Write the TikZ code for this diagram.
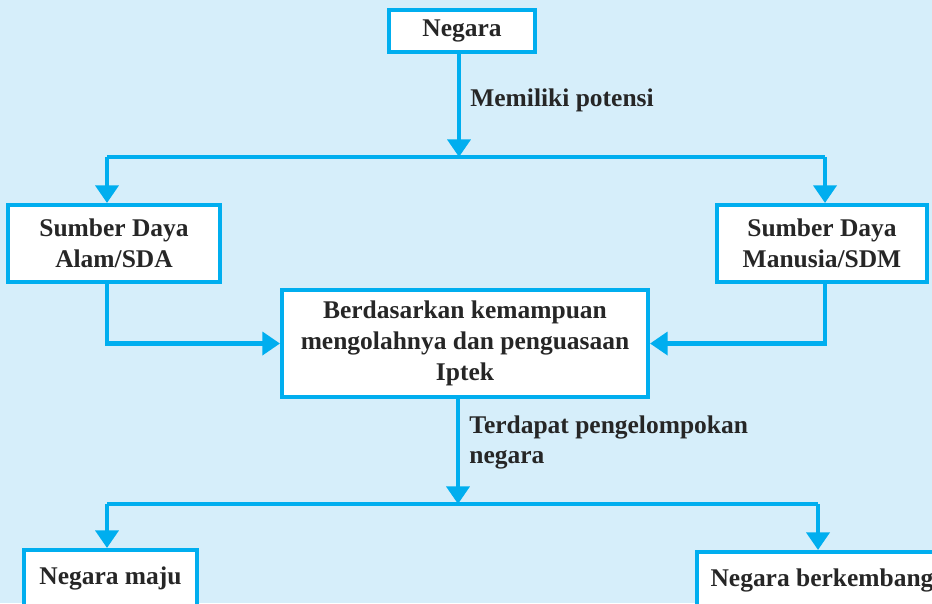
\documentclass[tikz,border=0pt]{standalone}
\usepackage{fontspec}
\setmainfont{Liberation Serif}
\usepackage{xcolor}
\usetikzlibrary{arrows.meta, positioning, calc}
\definecolor{latarbiru}{RGB}{214, 238, 250}
\definecolor{garisbiru}{RGB}{0, 174, 239}

\begin{document}
\begin{tikzpicture}[
    x=0.02cm, y=-0.02cm,
    font=\fontsize{14.5}{17.5}\selectfont\bfseries,
    kotak/.style={draw=garisbiru, fill=white, line width=2.3pt, inner sep=2pt,
                  align=center, text=black!85},
    panah/.style={-{Triangle[length=10pt, width=13pt]}, draw=garisbiru, line width=2.3pt},
    garis/.style={draw=garisbiru, line width=2.3pt},
    keterangan/.style={text=black!85, align=left, inner sep=0pt}
  ]
    \fill[latarbiru] (0,0) rectangle (932,603);
    \useasboundingbox (0,0) rectangle (932,603);
    \clip (0,0) rectangle (932,603);

    \node[kotak, minimum width=146*0.02cm, minimum height=42*0.02cm] (negara) at (462,31) {Negara};
    \node[kotak, minimum width=212*0.02cm, minimum height=77*0.02cm] (sda) at (114,243.5) {Sumber Daya\\Alam/SDA};
    \node[kotak, minimum width=210*0.02cm, minimum height=77*0.02cm] (sdm) at (822,243.5) {Sumber Daya\\Manusia/SDM};
    \node[kotak, minimum width=366*0.02cm, minimum height=107*0.02cm] (iptek) at (465,343.5)
      {Berdasarkan kemampuan\\mengolahnya dan penguasaan\\Iptek};
    \node[kotak, minimum width=173*0.02cm, minimum height=56*0.02cm] (maju) at (110.5,578) {Negara maju};
    \node[kotak, minimum width=250*0.02cm, minimum height=56*0.02cm] (berkembang) at (822,580) {Negara berkembang};

    \coordinate (cabang1) at (459,157);
    \coordinate (kiri1) at (107,157);
    \coordinate (kanan1) at (825,157);
    \coordinate (cabang2) at (458,504);
    \coordinate (kiri2) at (107,504);
    \coordinate (kanan2) at (818,504);

    \draw[panah] (negara.south -| cabang1) -- (cabang1);
    \draw[garis] (kiri1) -- (kanan1);
    \draw[panah] (kiri1) -- (kiri1 |- sda.north);
    \draw[panah] (kanan1) -- (kanan1 |- sdm.north);

    \draw[panah] (sda.south -| kiri1) |- (iptek.west);
    \draw[panah] (sdm.south -| kanan1) |- (iptek.east);

    \draw[panah] (iptek.south -| cabang2) -- (cabang2);
    \draw[garis] (kiri2) -- (kanan2);
    \draw[panah] (kiri2) -- (kiri2 |- maju.north);
    \draw[panah] (kanan2) -- (kanan2 |- berkembang.north);

    \node[keterangan, anchor=west] (potensi) at (470,100) {Memiliki potensi};
    \node[keterangan, anchor=north west] (kelompok) at (469,415) {Terdapat pengelompokan\\negara};
  \end{tikzpicture}
\end{document}
